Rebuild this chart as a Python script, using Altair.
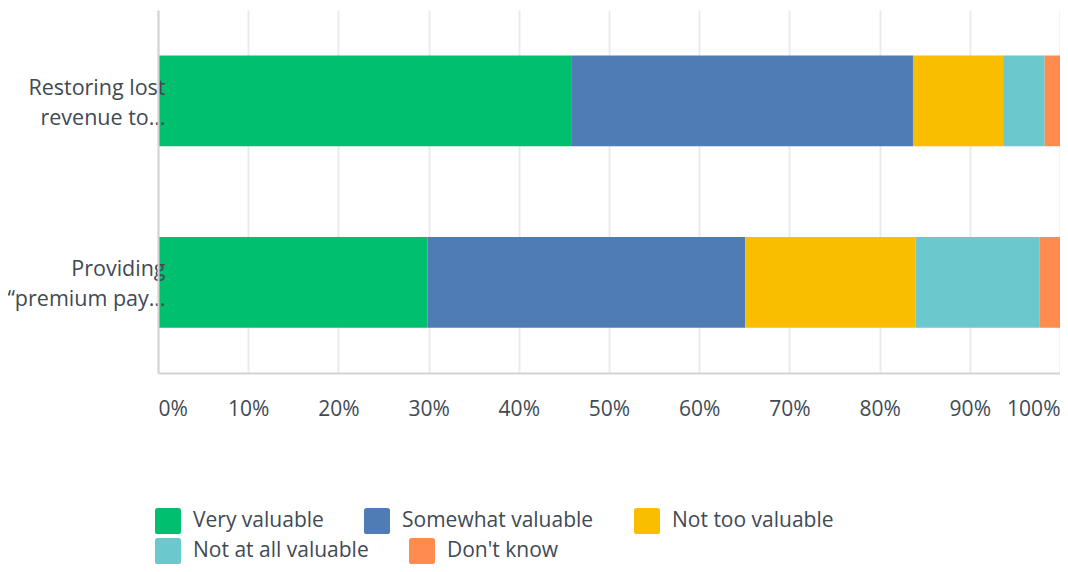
import altair as alt
import pandas as pd

questions = ["Restoring lost|revenue to…", "Providing|“premium pay…"]
responses = ["Very valuable", "Somewhat valuable", "Not too valuable",
             "Not at all valuable", "Don't know"]
colors = ["#00bf6f", "#507cb6", "#f9be00", "#6bc8cd", "#ff8b4f"]
restoring = [45.8, 37.9, 10.0, 4.6, 1.7]
premium = [29.9, 35.2, 18.9, 13.7, 2.3]

rows = []
for q, vals in zip(questions, [restoring, premium]):
    for i, (r, v) in enumerate(zip(responses, vals)):
        rows.append({"question": q, "response": r, "value": v, "order": i})
df = pd.DataFrame(rows)

font = "Open Sans"
txt = "#404a54"
rounded = ("M-0.8,-1 L0.8,-1 Q1,-1 1,-0.8 L1,0.8 Q1,1 0.8,1 L-0.8,1 "
           "Q-1,1 -1,0.8 L-1,-0.8 Q-1,-1 -0.8,-1 Z")

x_enc = alt.X("x0:Q",
              scale=alt.Scale(domain=[0, 100], nice=False),
              axis=alt.Axis(title=None, values=list(range(0, 101, 10)),
                            labelExpr="datum.value + '%'", ticks=False,
                            labelFlush=True, labelPadding=25, labelFontSize=21,
                            grid=True, gridColor="#ebebeb", gridWidth=2,
                            domainColor="#d3d3d3", domainWidth=2))
y_enc = alt.Y("question:N", sort=questions,
              scale=alt.Scale(paddingInner=0.5, paddingOuter=0.25),
              axis=alt.Axis(title=None, ticks=False, labelPadding=-7,
                            labelExpr="split(datum.label, '|')",
                            labelFontSize=21.5, labelLineHeight=30,
                            labelAlign="right", labelBaseline="middle",
                            labelOffset=-12, labelLimit=220, zindex=1,
                            domainColor="#d3d3d3", domainWidth=2))


def legend(y):
    return alt.Legend(title=None, orient="none", legendX=-3, legendY=y,
                      direction="horizontal",
                      symbolType=rounded, symbolSize=676,
                      symbolStrokeWidth=0, symbolOpacity=1,
                      labelFontSize=21, labelOffset=12,
                      columnPadding=40, labelLimit=300)


base = alt.Chart(df).transform_stack(
    stack="value", groupby=["question"], as_=["x0", "x1"],
    sort=[alt.SortField("order", order="ascending")],
)

top_row = base.transform_filter("datum.order < 3").mark_bar().encode(
    x=x_enc, x2="x1:Q", y=y_enc,
    color=alt.Color("response:N", sort=responses[:3],
                    scale=alt.Scale(domain=responses[:3], range=colors[:3]),
                    legend=legend(498)),
)
bottom_row = base.transform_filter("datum.order >= 3").mark_bar().encode(
    x=x_enc, x2="x1:Q", y=y_enc,
    color=alt.Color("response:N", sort=responses[3:],
                    scale=alt.Scale(domain=responses[3:], range=colors[3:]),
                    legend=legend(528)),
)

chart = alt.layer(top_row, bottom_row).resolve_scale(
    color="independent"
).properties(
    width=902, height=363,
    autosize=alt.AutoSizeParams(type="none"),
    padding={"left": 150, "top": 2, "right": 0, "bottom": 191},
).configure_axis(
    labelFont=font, labelColor=txt, domainCap="butt",
).configure_legend(
    labelFont=font, labelColor=txt,
).configure_view(stroke=None)

chart.save("out.html", embed_options={"renderer": "svg", "actions": False})
